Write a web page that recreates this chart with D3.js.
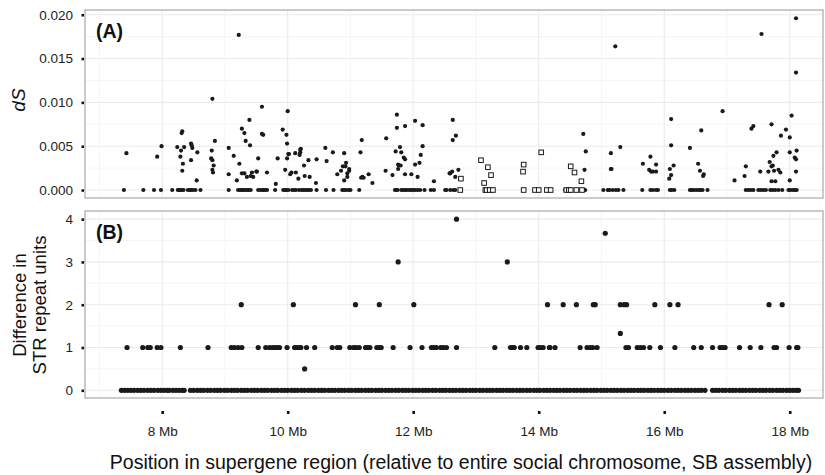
<!DOCTYPE html>
<html>
<head>
<meta charset="utf-8">
<script src="https://cdn.jsdelivr.net/npm/d3@7"></script>
<style>
  body { margin: 0; background: #fff; }
  svg { font-family: "Liberation Sans", Arial, sans-serif; }
  .grid-major { stroke: #ebebeb; stroke-width: 1.1; }
  .grid-minor { stroke: #f3f3f3; stroke-width: 0.8; }
  .axis text { fill: #222; }
  .axis line { stroke: #111; }
  .axis .domain { display: none; }
</style>
</head>
<body>
<svg width="825" height="475"></svg>
<script>
// ---- data ----
// panel A: synonymous divergence dS, filled points [position Mb, dS]
var dsFilled = [
  [7.39,0],[7.43,0.0042],[7.70,0],[7.87,0],[7.92,0.0038],[7.98,0],[7.99,0.0050],
  [8.16,0],[8.24,0.0049],[8.25,0],[8.27,0],[8.29,0],[8.31,0],[8.34,0],[8.29,0.0038],[8.30,0.0045],
  [8.31,0.0065],[8.32,0.0067],[8.35,0.0049],[8.33,0.0030],[8.32,0.0022],
  [8.41,0],[8.44,0],[8.46,0],[8.49,0],[8.53,0],[8.46,0.0053],[8.47,0.0051],[8.48,0.0048],
  [8.46,0.0034],[8.56,0.0043],[8.55,0.0011],[8.61,0],
  [8.80,0.0104],[8.84,0.0056],[8.79,0.0045],[8.78,0.0036],[8.80,0.0034],[8.82,0.0028],[8.80,0.0023],[8.81,0.0020],
  [9.06,0.0048],[9.06,0.0018],[9.06,0],[9.14,0.0039],[9.23,0.0030],[9.19,0.0011],
  [9.21,0],[9.24,0],[9.26,0],[9.28,0],[9.30,0],[9.33,0],[9.36,0],[9.38,0],[9.41,0],
  [9.22,0.0177],[9.27,0.0070],[9.31,0.0065],[9.39,0.0080],[9.33,0.0056],[9.40,0.0051],[9.27,0.0019],
  [9.31,0.0019],[9.35,0.0015],[9.41,0.0016],[9.43,0.0020],[9.45,0.0015],[9.50,0.0021],[9.51,0.0021],
  [9.53,0.0036],[9.59,0.0095],[9.59,0.0064],[9.61,0.0063],[9.67,0.0020],
  [9.53,0],[9.57,0],[9.60,0],[9.62,0],[9.64,0],[9.67,0],
  [9.80,0],[9.81,0.0007],[9.84,0.0036],[10.00,0.0090],[9.92,0.0069],[9.98,0.0063],[9.99,0.0053],
  [10.01,0.0041],[10.02,0.0041],[9.99,0.0036],[9.96,0.0023],[10.04,0.0018],[10.06,0.0020],[10.12,0.0042],
  [10.13,0.0020],[10.17,0.0013],[10.20,0.0046],[10.21,0.0047],[10.20,0.0043],[10.19,0.0040],[10.26,0.0028],
  [10.27,0.0016],[10.33,0.0034],[10.35,0.0015],
  [9.93,0],[9.96,0],[9.98,0],[10.01,0],[10.07,0],[10.10,0],[10.13,0],[10.18,0],[10.22,0],[10.25,0],
  [10.28,0],[10.31,0],[10.34,0],[10.37,0],
  [10.45,0.0008],[10.46,0.0035],[10.46,0],[10.60,0.0048],[10.62,0.0033],[10.61,0],[10.72,0.0043],[10.73,0],
  [10.79,0.0018],[10.85,0.0022],[10.90,0.0042],[10.88,0.0027],[10.93,0.0031],[10.90,0.0011],[10.95,0.0019],
  [10.95,0.0015],[10.98,0.0024],[10.98,0.0022],[10.92,0.0027],
  [10.87,0],[10.90,0],[10.93,0],[10.97,0],[11.00,0],
  [11.14,0],[11.18,0.0057],[11.16,0.0043],[11.17,0.0014],[11.19,0.0015],[11.21,0.0014],[11.29,0.0018],
  [11.35,0.0008],[11.57,0.0059],[11.56,0.0022],[11.67,0.0017],[11.74,0.0086],[11.74,0.0071],[11.72,0.0044],
  [11.79,0.0049],[11.81,0.0043],[11.85,0.0037],[11.87,0.0035],[11.76,0.0029],[11.77,0.0028],[11.80,0.0028],
  [11.76,0.0024],[11.87,0.0073],[11.87,0.0018],[11.97,0.0018],[12.03,0.0079],[12.15,0.0074],[12.15,0.0050],
  [12.12,0.0040],[12.10,0.0031],[12.03,0.0029],[12.07,0.0015],
  [11.71,0],[11.73,0],[11.75,0],[11.81,0],[11.84,0],[11.87,0],[11.90,0],[11.94,0],[11.97,0],[12.00,0],
  [12.03,0],[12.07,0],[12.11,0],
  [12.18,0],[12.28,0],[12.33,0],[12.33,0.0010],[12.51,0],[12.58,0.0019],
  [12.63,0.0080],[12.68,0.0062],[12.63,0.0057],[12.59,0.0019],[12.62,0.0021],[12.67,0.0015],[12.72,0.0023],
  [12.53,0],[12.59,0],[12.64,0],[12.67,0],
  [14.42,0],[14.71,0.0064],[14.75,0.0044],[14.73,0.0023],[14.72,0],[14.74,0],
  [15.03,0],[15.10,0],[15.13,0],[15.18,0],[15.23,0],[15.27,0],[15.35,0],[15.16,0.0024],[15.15,0.0024],
  [15.15,0.0042],[15.30,0.0049],[15.22,0.0164],
  [15.65,0],[15.66,0.0030],[15.78,0.0038],[15.76,0.0023],[15.79,0.0021],[15.82,0.0021],[15.87,0.0029],
  [15.87,0.0021],[15.78,0],[15.82,0],[15.87,0],[15.90,0],
  [16.11,0.0081],[16.11,0.0051],[16.15,0.0028],[16.09,0.0024],[16.11,0.0017],[16.08,0.0013],[16.09,0],
  [16.12,0],[16.16,0],
  [16.41,0.0048],[16.59,0.0068],[16.54,0.0030],[16.57,0.0022],[16.63,0.0018],[16.62,0.0016],
  [16.41,0],[16.44,0],[16.47,0],[16.51,0],[16.55,0],[16.58,0],[16.61,0],[16.69,0],
  [16.93,0.0090],[17.12,0.0011],[17.28,0.0016],[17.30,0.0027],[17.39,0.0070],[17.42,0.0073],[17.53,0.0021],
  [17.55,0.0178],[17.71,0.0075],[17.94,0.0069],[17.86,0.0062],[18.00,0.0060],[18.03,0.0085],[17.79,0.0043],
  [17.74,0.0039],[17.68,0.0032],[17.73,0.0028],[17.71,0.0027],[17.66,0.0021],[17.75,0.0022],[17.82,0.0023],
  [17.85,0.0020],[17.71,0.0010],[17.77,0.0010],[18.00,0.0043],[18.11,0.0045],[18.08,0.0037],[18.10,0.0035],
  [18.10,0.0021],[18.00,0.0011],[18.10,0.0196],[18.10,0.0134],
  [17.30,0],[17.34,0],[17.38,0],[17.42,0],[17.50,0],[17.54,0],[17.58,0],[17.62,0],[17.69,0],[17.73,0],
  [17.77,0],[17.82,0],[17.88,0],[17.98,0],[18.01,0],[18.05,0],[18.08,0],[18.11,0]
];
// panel A: open squares [position Mb, dS]
var dsOpen = [
  [12.76,0.0013],[12.75,0],[13.08,0.0034],[13.19,0.0026],[13.24,0.0017],[13.13,0.0008],[13.15,0],[13.17,0],
  [13.22,0],[13.27,0],[13.76,0.0029],[13.75,0.0021],[13.76,0],[13.94,0],[14.00,0],[14.04,0.0043],[14.13,0],
  [14.19,0],[14.51,0.0027],[14.57,0.0020],[14.68,0.0010],[14.44,0],[14.48,0],[14.51,0],[14.60,0],[14.69,0]
];

// panel B: STR repeat-unit differences, positions (Mb) by value
var strZeroPos = [
  7.35,7.40,7.45,7.50,7.55,7.61,7.66,7.71,7.77,7.82,7.87,7.93,7.98,8.03,8.08,8.11,8.17,8.22,8.27,8.32,8.35,
  8.45,8.50,8.56,8.61,8.66,8.72,8.77,8.83,8.88,8.93,8.99,9.04,9.10,9.15,9.20,9.26,9.31,9.36,9.42,9.47,9.52,
  9.58,9.63,9.68,9.74,9.79,9.84,9.90,9.95,10.00,10.06,10.11,10.16,10.22,10.27,10.33,10.38,10.43,10.49,10.54,
  10.59,10.65,10.70,10.75,10.81,10.86,10.91,10.97,11.02,11.08,11.13,11.18,11.24,11.29,11.34,11.40,11.45,11.50,
  11.56,11.61,11.66,11.72,11.77,11.83,11.88,11.93,11.99,12.04,12.09,12.15,12.20,12.25,12.31,12.36,12.42,12.47,
  12.52,12.58,12.63,12.68,12.74,12.79,12.84,12.90,12.95,13.00,13.06,13.11,13.17,13.22,13.27,13.33,13.38,13.43,
  13.49,13.54,13.59,13.65,13.70,13.75,13.81,13.86,13.92,13.97,14.02,14.08,14.13,14.18,14.24,14.29,14.34,14.40,
  14.45,14.50,14.56,14.61,14.67,14.72,14.77,14.83,14.88,14.93,14.99,15.04,15.09,15.15,15.20,15.25,15.31,15.36,
  15.42,15.47,15.52,15.58,15.63,15.68,15.74,15.79,15.84,15.90,15.95,16.00,16.06,16.11,16.17,16.22,16.27,16.33,
  16.38,16.43,16.49,16.54,16.59,16.65,16.77,16.82,16.87,16.93,16.98,17.04,17.09,17.14,17.20,17.25,17.30,17.36,
  17.41,17.46,17.52,17.57,17.62,17.68,17.73,17.79,17.84,17.89,17.95,18.00,18.05,18.10,18.14
];
var strOnePos = [
  7.44,7.69,7.77,7.81,7.92,7.98,8.29,8.73,9.10,9.15,9.21,9.27,9.53,9.65,9.71,9.76,9.80,9.84,9.87,9.99,10.11,
  10.14,10.18,10.21,10.30,10.43,10.71,10.79,10.83,10.99,11.05,11.09,11.14,11.24,11.27,11.31,11.42,11.46,11.49,
  11.68,11.95,12.14,12.29,12.33,12.37,12.44,12.48,12.53,12.69,13.30,13.55,13.58,13.61,13.71,13.81,13.99,14.03,
  14.07,14.17,14.18,14.26,14.66,14.77,14.82,14.86,14.93,15.39,15.43,15.57,15.62,15.67,15.77,15.94,16.17,16.47,
  16.59,16.77,16.89,16.93,16.97,17.20,17.37,17.54,17.75,17.79,17.99,18.11,18.13
];
var strTwoPos = [
  9.26,10.09,11.08,11.46,12.01,14.14,14.39,14.60,14.87,14.90,15.30,15.36,15.40,15.85,16.09,16.22,17.67,17.88
];
var strOther = [[10.27,0.5],[15.30,1.33],[11.76,3],[13.50,3],[12.69,4],[15.06,3.67]];

var xTicks = [8,10,12,14,16,18];
var xMinor = [7,9,11,13,15,17];
var dsTicks = [0,0.005,0.010,0.015,0.020];
var dsMinor = [0.0025,0.0075,0.0125,0.0175];
var strTicks = [0,1,2,3,4];
var strMinor = [0.5,1.5,2.5,3.5];

// ---- layout ----
var svg = d3.select("svg");
var left = 85, right = 823;
var topA = 10, botA = 198, topB = 211, botB = 398;

var x = d3.scaleLinear().domain([6.77, 18.53]).range([left, right]);
var yA = d3.scaleLinear().domain([-0.00091, 0.02054]).range([botA, topA]);
var yB = d3.scaleLinear().domain([-0.18, 4.19]).range([botB, topB]);

var strData = strZeroPos.map(function(p) { return [p, 0]; })
  .concat(strOnePos.map(function(p) { return [p, 1]; }))
  .concat(strTwoPos.map(function(p) { return [p, 2]; }))
  .concat(strOther);

function panel(y, y0, y1, major, minor) {
  var g = svg.append("g");
  g.selectAll(".vm").data(xMinor).enter().append("line")
    .attr("class", "grid-minor")
    .attr("x1", function(d) { return x(d); }).attr("x2", function(d) { return x(d); })
    .attr("y1", y0).attr("y2", y1);
  g.selectAll(".hm").data(minor).enter().append("line")
    .attr("class", "grid-minor")
    .attr("x1", left).attr("x2", right)
    .attr("y1", function(d) { return y(d); }).attr("y2", function(d) { return y(d); });
  g.selectAll(".vM").data(xTicks).enter().append("line")
    .attr("class", "grid-major")
    .attr("x1", function(d) { return x(d); }).attr("x2", function(d) { return x(d); })
    .attr("y1", y0).attr("y2", y1);
  g.selectAll(".hM").data(major).enter().append("line")
    .attr("class", "grid-major")
    .attr("x1", left).attr("x2", right)
    .attr("y1", function(d) { return y(d); }).attr("y2", function(d) { return y(d); });
  return g;
}

function border(y0, y1) {
  svg.append("rect")
    .attr("x", left).attr("y", y0)
    .attr("width", right - left).attr("height", y1 - y0)
    .attr("fill", "none").attr("stroke", "#a8a8a8").attr("stroke-width", 1.2);
}

// panel A
var gA = panel(yA, topA, botA, dsTicks, dsMinor);
gA.selectAll(".dot").data(dsFilled).enter().append("circle")
  .attr("cx", function(d) { return x(d[0]); })
  .attr("cy", function(d) { return yA(d[1]); })
  .attr("r", 2.1).attr("fill", "#1a1a1a");
gA.selectAll(".sq").data(dsOpen).enter().append("rect")
  .attr("x", function(d) { return x(d[0]) - 2.3; })
  .attr("y", function(d) { return yA(d[1]) - 2.3; })
  .attr("width", 4.6).attr("height", 4.6)
  .attr("fill", "#fff").attr("stroke", "#1a1a1a").attr("stroke-width", 1);
border(topA, botA);

// panel B
var gB = panel(yB, topB, botB, strTicks, strMinor);
gB.selectAll(".dot").data(strData).enter().append("circle")
  .attr("cx", function(d) { return x(d[0]); })
  .attr("cy", function(d) { return yB(d[1]); })
  .attr("r", 2.6).attr("fill", "#1a1a1a");
border(topB, botB);

// axes
svg.append("g").attr("class", "axis")
  .attr("transform", "translate(84,0)")
  .call(d3.axisLeft(yA).tickValues(dsTicks).tickFormat(d3.format(".3f")).tickSize(2.5).tickPadding(8.5));
svg.append("g").attr("class", "axis")
  .attr("transform", "translate(84,0)")
  .call(d3.axisLeft(yB).tickValues(strTicks).tickFormat(d3.format("d")).tickSize(2.5).tickPadding(8.5));
svg.append("g").attr("class", "axis")
  .attr("transform", "translate(0,411)")
  .call(d3.axisBottom(x).tickValues(xTicks).tickFormat(function(d) { return d + " Mb"; }).tickSize(3).tickPadding(12.5));
svg.selectAll(".axis line").attr("stroke-width", 2.6);
svg.selectAll(".axis text").style("font-size", "13.5px");

// labels
svg.append("text").attr("x", 96).attr("y", 38)
  .style("font-size", "19.5px").style("font-weight", "bold").attr("fill", "#111").text("(A)");
svg.append("text").attr("x", 96).attr("y", 239)
  .style("font-size", "19.5px").style("font-weight", "bold").attr("fill", "#111").text("(B)");

svg.append("text").attr("transform", "translate(24.5,100) rotate(-90)")
  .attr("text-anchor", "middle").style("font-size", "19px").style("font-style", "italic")
  .attr("fill", "#111").text("dS");
var yl = svg.append("text").attr("transform", "translate(26,305) rotate(-90)")
  .attr("text-anchor", "middle").style("font-size", "18.5px").attr("fill", "#111");
yl.append("tspan").attr("x", 0).attr("y", 0).text("Difference in");
yl.append("tspan").attr("x", 0).attr("y", 19.5).text("STR repeat units");

svg.append("text").attr("x", 461).attr("y", 469)
  .attr("text-anchor", "middle").style("font-size", "19.5px").attr("fill", "#111")
  .text("Position in supergene region (relative to entire social chromosome, SB assembly)");
</script>
</body>
</html>
